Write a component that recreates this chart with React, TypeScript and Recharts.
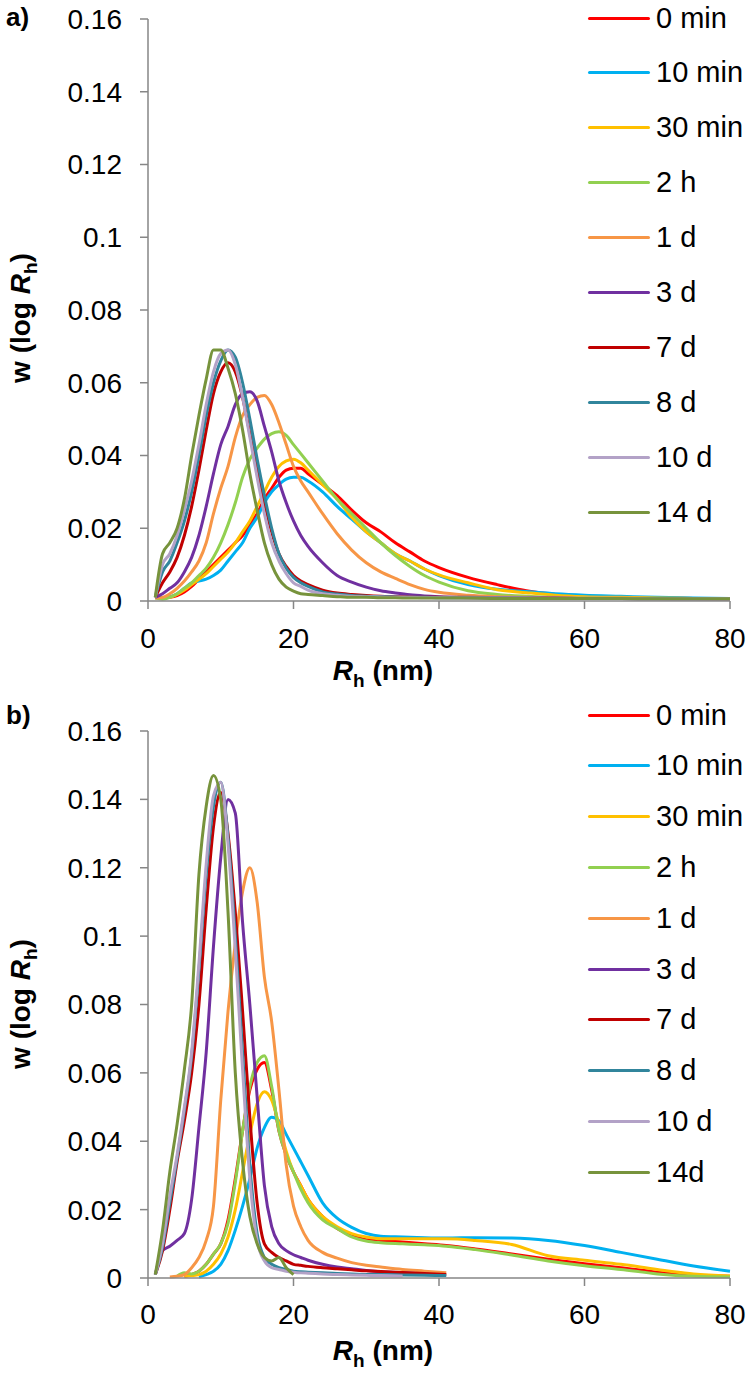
import React from "react";
import { LineChart, Line, XAxis, YAxis, Legend } from "recharts";

const FONT = "'Liberation Sans', Arial, sans-serif";
const AXIS_GREY = "#868686";

const seriesKeys = ["s0", "s1", "s2", "s3", "s4", "s5", "s6", "s7", "s8", "s9"];
const namesA = ["0 min", "10 min", "30 min", "2 h", "1 d", "3 d", "7 d", "8 d", "10 d", "14 d"];
const namesB = ["0 min", "10 min", "30 min", "2 h", "1 d", "3 d", "7 d", "8 d", "10 d", "14d"];
const seriesColors = ["#FF0000", "#00B0F0", "#FFC000", "#92D050", "#F79646", "#7030A0", "#C00000", "#31859C", "#B3A2C7", "#77933C"];

const xTicks = [0, 20, 40, 60, 80];
const yTicks = [0, 0.02, 0.04, 0.06, 0.08, 0.1, 0.12, 0.14, 0.16];

// panel a) – Rh grid (nm)
const rhA = [1, 2, 3, 4, 5, 6, 7, 8, 9, 10, 11, 12, 13, 14, 15, 16, 17, 18, 19, 20, 21, 22, 24, 26, 28, 30, 32, 34, 36, 38, 40, 44, 48, 52, 56, 60, 65, 70, 75, 80];
const a0min = [0.001, 0.0008, 0.001, 0.0015, 0.0025, 0.004, 0.006, 0.008, 0.01, 0.012, 0.014, 0.016, 0.018, 0.021, 0.024, 0.028, 0.031, 0.034, 0.036, 0.0365, 0.0365, 0.035, 0.032, 0.029, 0.025, 0.0215, 0.019, 0.016, 0.0135, 0.011, 0.0092, 0.0065, 0.0045, 0.0028, 0.0018, 0.0013, 0.001, 0.0008, 0.0007, 0.0006];
const a10min = [0.001, 0.0008, 0.0012, 0.002, 0.0035, 0.005, 0.0055, 0.006, 0.007, 0.0085, 0.011, 0.0135, 0.016, 0.02, 0.023, 0.027, 0.03, 0.032, 0.0335, 0.034, 0.034, 0.033, 0.03, 0.026, 0.0225, 0.019, 0.016, 0.013, 0.011, 0.0088, 0.007, 0.0045, 0.0032, 0.0026, 0.002, 0.0016, 0.0013, 0.001, 0.0008, 0.0007];
const a30min = [0.001, 0.0008, 0.001, 0.0018, 0.003, 0.0045, 0.006, 0.0075, 0.0095, 0.0115, 0.0135, 0.016, 0.019, 0.022, 0.026, 0.03, 0.034, 0.037, 0.0385, 0.039, 0.038, 0.036, 0.032, 0.028, 0.023, 0.019, 0.016, 0.013, 0.011, 0.0088, 0.0072, 0.005, 0.0031, 0.0023, 0.0016, 0.0012, 0.001, 0.0008, 0.0007, 0.0006];
const a2h = [0.0008, 0.0005, 0.001, 0.002, 0.0035, 0.005, 0.007, 0.009, 0.012, 0.016, 0.021, 0.027, 0.034, 0.039, 0.042, 0.0445, 0.046, 0.0465, 0.0455, 0.043, 0.0405, 0.038, 0.033, 0.028, 0.024, 0.02, 0.016, 0.0125, 0.0095, 0.007, 0.0052, 0.0028, 0.0018, 0.0013, 0.001, 0.0009, 0.0008, 0.0007, 0.0007, 0.0006];
const a1d = [0.0008, 0.001, 0.002, 0.0035, 0.0055, 0.008, 0.011, 0.016, 0.024, 0.031, 0.037, 0.045, 0.051, 0.054, 0.056, 0.0565, 0.054, 0.049, 0.043, 0.037, 0.033, 0.03, 0.024, 0.0185, 0.014, 0.0105, 0.008, 0.0062, 0.0045, 0.0032, 0.0024, 0.0016, 0.0012, 0.001, 0.0009, 0.0008, 0.0008, 0.0007, 0.0007, 0.0006];
const a3d = [0.001, 0.002, 0.0035, 0.005, 0.008, 0.012, 0.018, 0.026, 0.035, 0.043, 0.048, 0.054, 0.057, 0.0575, 0.055, 0.048, 0.041, 0.033, 0.027, 0.022, 0.018, 0.015, 0.0105, 0.007, 0.0052, 0.0038, 0.0028, 0.0022, 0.0017, 0.0014, 0.0012, 0.001, 0.0009, 0.0008, 0.0008, 0.0007, 0.0007, 0.0007, 0.0006, 0.0006];
const a7d = [0.001, 0.005, 0.008, 0.012, 0.018, 0.026, 0.036, 0.047, 0.057, 0.063, 0.0655, 0.063, 0.056, 0.046, 0.036, 0.027, 0.019, 0.013, 0.0095, 0.007, 0.0055, 0.0045, 0.003, 0.0022, 0.0018, 0.0015, 0.0013, 0.0012, 0.0011, 0.001, 0.001, 0.0009, 0.0008, 0.0008, 0.0007, 0.0007, 0.0007, 0.0006, 0.0006, 0.0006];
const a8d = [0.001, 0.008, 0.011, 0.016, 0.022, 0.03, 0.04, 0.051, 0.06, 0.066, 0.069, 0.067, 0.06, 0.05, 0.039, 0.029, 0.02, 0.013, 0.009, 0.0065, 0.005, 0.004, 0.0025, 0.0019, 0.0015, 0.0013, 0.0012, 0.0011, 0.001, 0.001, 0.0009, 0.0009, 0.0008, 0.0008, 0.0007, 0.0007, 0.0007, 0.0006, 0.0006, 0.0006];
const a10d = [0.001, 0.01, 0.013, 0.018, 0.025, 0.033, 0.043, 0.054, 0.063, 0.068, 0.069, 0.065, 0.056, 0.045, 0.034, 0.024, 0.016, 0.011, 0.0075, 0.005, 0.004, 0.003, 0.002, 0.0016, 0.0013, 0.0012, 0.0011, 0.001, 0.001, 0.0009, 0.0009, 0.0008, 0.0008, 0.0008, 0.0007, 0.0007, 0.0007, 0.0006, 0.0006, 0.0006];
const a14d = [0.001, 0.013, 0.016, 0.02, 0.028, 0.04, 0.051, 0.061, 0.069, 0.069, 0.064, 0.057, 0.047, 0.035, 0.025, 0.016, 0.01, 0.006, 0.0038, 0.0027, 0.002, 0.0018, 0.0015, 0.0012, 0.001, 0.001, 0.0009, 0.0009, 0.0008, 0.0008, 0.0008, 0.0008, 0.0007, 0.0007, 0.0007, 0.0007, 0.0007, 0.0006, 0.0006, 0.0006];

// panel b) – Rh grid (nm)
const rhB = [1, 2, 3, 4, 5, 6, 7, 8, 9, 10, 11, 12, 13, 14, 15, 16, 17, 18, 19, 20, 21, 22, 24, 26, 28, 30, 32, 35, 38, 41, 45, 50, 55, 60, 65, 70, 75, 80];
const b0min = [null, null, null, null, 0.0005, 0.001, 0.002, 0.004, 0.007, 0.01, 0.017, 0.029, 0.043, 0.055, 0.061, 0.063, 0.055, 0.043, 0.036, 0.031, 0.027, 0.023, 0.018, 0.0145, 0.0125, 0.0112, 0.011, 0.0105, 0.01, 0.0095, 0.0085, 0.007, 0.0055, 0.0042, 0.003, 0.0017, 0.0008, 0.0005];
const b10min = [null, null, null, null, null, null, 0.0003, 0.001, 0.002, 0.004, 0.008, 0.014, 0.021, 0.029, 0.038, 0.044, 0.047, 0.046, 0.042, 0.038, 0.034, 0.03, 0.022, 0.0175, 0.0148, 0.013, 0.0122, 0.012, 0.0118, 0.0117, 0.0118, 0.0117, 0.011, 0.0095, 0.0075, 0.0055, 0.0035, 0.002];
const b30min = [null, null, null, null, 0.0005, 0.0007, 0.001, 0.002, 0.004, 0.007, 0.012, 0.02, 0.031, 0.042, 0.051, 0.0545, 0.052, 0.045, 0.037, 0.031, 0.027, 0.023, 0.018, 0.015, 0.013, 0.012, 0.0115, 0.0115, 0.0115, 0.0115, 0.011, 0.0098, 0.0065, 0.0052, 0.004, 0.0025, 0.0012, 0.0006];
const b2h = [null, null, null, 0.0005, 0.0015, 0.0012, 0.002, 0.004, 0.007, 0.01, 0.016, 0.028, 0.043, 0.056, 0.063, 0.065, 0.056, 0.043, 0.036, 0.031, 0.026, 0.022, 0.017, 0.0145, 0.012, 0.0108, 0.0103, 0.01, 0.0097, 0.0093, 0.0083, 0.0067, 0.005, 0.0036, 0.0025, 0.0012, 0.0005, 0.0003];
const b1d = [null, null, 0.0003, 0.0005, 0.001, 0.003, 0.006, 0.011, 0.021, 0.052, 0.078, 0.098, 0.113, 0.12, 0.11, 0.088, 0.075, 0.055, 0.033, 0.021, 0.015, 0.011, 0.0075, 0.0058, 0.0045, 0.0037, 0.0032, 0.0025, 0.002, 0.0015, null, null, null, null, null, null, null, null];
const b3d = [0.001, 0.008, 0.0093, 0.011, 0.013, 0.023, 0.044, 0.066, 0.097, 0.123, 0.14, 0.136, 0.104, 0.08, 0.053, 0.027, 0.015, 0.01, 0.008, 0.0068, 0.006, 0.0052, 0.004, 0.0032, 0.0027, 0.0022, 0.0018, 0.0015, 0.0012, null, null, null, null, null, null, null, null, null];
const b7d = [0.001, 0.008, 0.02, 0.034, 0.046, 0.06, 0.08, 0.108, 0.132, 0.142, 0.13, 0.107, 0.078, 0.047, 0.022, 0.01, 0.0075, 0.006, 0.005, 0.004, 0.0037, 0.0034, 0.003, 0.0027, 0.0024, 0.0021, 0.0019, 0.0016, 0.0013, 0.001, null, null, null, null, null, null, null, null];
const b8d = [0.001, 0.009, 0.022, 0.035, 0.049, 0.065, 0.09, 0.118, 0.138, 0.145, 0.129, 0.1, 0.066, 0.033, 0.013, 0.006, 0.004, 0.003, 0.0025, 0.002, 0.0018, 0.0017, 0.0015, 0.0013, 0.0012, 0.001, 0.001, 0.0009, 0.0008, 0.0007, null, null, null, null, null, null, null, null];
const b10d = [0.001, 0.01, 0.024, 0.036, 0.05, 0.066, 0.092, 0.121, 0.141, 0.145, 0.127, 0.096, 0.061, 0.029, 0.011, 0.005, 0.003, 0.0025, 0.002, 0.0017, 0.0015, 0.0014, 0.0012, 0.001, 0.0009, 0.0008, 0.0007, 0.0006, null, null, null, null, null, null, null, null, null, null];
const b14d = [0.001, 0.014, 0.031, 0.045, 0.061, 0.08, 0.118, 0.138, 0.147, 0.14, 0.107, 0.06, 0.034, 0.018, 0.01, 0.006, 0.005, 0.006, 0.003, 0.001, null, null, null, null, null, null, null, null, null, null, null, null, null, null, null, null, null, null];

const seriesA = [a0min, a10min, a30min, a2h, a1d, a3d, a7d, a8d, a10d, a14d];
const seriesB = [b0min, b10min, b30min, b2h, b1d, b3d, b7d, b8d, b10d, b14d];

function buildRows(xs: number[], series: (number | null)[][]) {
  return xs.map((x, i) => {
    const row: Record<string, number | null> = { x };
    series.forEach((s, k) => {
      row[seriesKeys[k]] = s[i];
    });
    return row;
  });
}

const dataA = buildRows(rhA, seriesA);
const dataB = buildRows(rhB, seriesB);

function LegendList({ names, gap }: { names: string[]; gap: number }) {
  return (
    <div style={{ position: "relative", width: 160, fontFamily: FONT, fontSize: 29, color: "#000" }}>
      {names.map((n, i) => (
        <div
          key={n}
          style={{ position: "absolute", left: 0, top: i * gap, display: "flex", alignItems: "center", height: 0, whiteSpace: "nowrap" }}
        >
          <span style={{ display: "inline-block", width: 62, height: 3, background: seriesColors[i], borderRadius: 2, marginRight: 6 }} />
          <span>{n}</span>
        </div>
      ))}
    </div>
  );
}

function XTitle({ x, y }: { x: number; y: number }) {
  return (
    <text x={x} y={y} textAnchor="middle" fontFamily={FONT} fontWeight="bold" fontSize={28} fill="#000">
      <tspan fontStyle="italic">R</tspan>
      <tspan dy={7} fontSize={19}>h</tspan>
      <tspan dy={-7}> (nm)</tspan>
    </text>
  );
}

function YTitle({ cx, cy }: { cx: number; cy: number }) {
  return (
    <text
      x={cx}
      y={cy}
      textAnchor="middle"
      transform={`rotate(-90 ${cx} ${cy})`}
      fontFamily={FONT}
      fontWeight="bold"
      fontSize={28}
      fill="#000"
    >
      <tspan>w (log </tspan>
      <tspan fontStyle="italic">R</tspan>
      <tspan dy={7} fontSize={19}>h</tspan>
      <tspan dy={-7}>)</tspan>
    </text>
  );
}

interface PanelProps {
  data: Record<string, number | null>[];
  names: string[];
  height: number;
  top: number;
  bottom: number;
  tickMargin: number;
  legendTop: number;
  legendGap: number;
  xTitleY: number;
  yTitleY: number;
  strokeWidth: number;
}

function Panel(p: PanelProps) {
  const tickStyle = { fill: "#000", fontSize: 28, fontFamily: FONT };
  return (
    <LineChart width={750} height={p.height} data={p.data} margin={{ top: p.top, right: 20, left: 88, bottom: p.bottom }}>
      <XAxis
        dataKey="x"
        type="number"
        domain={[0, 80]}
        ticks={xTicks}
        interval={0}
        height={60}
        stroke={AXIS_GREY}
        strokeWidth={1.5}
        tickSize={8}
        tickMargin={p.tickMargin}
        tick={tickStyle}
        label={{ content: () => <XTitle x={383} y={p.xTitleY} /> }}
      />
      <YAxis
        type="number"
        domain={[0, 0.16]}
        ticks={yTicks}
        interval={0}
        width={60}
        stroke={AXIS_GREY}
        strokeWidth={1.5}
        tickSize={8}
        tickMargin={18}
        tick={tickStyle}
        label={{ content: () => <YTitle cx={30} cy={p.yTitleY} /> }}
      />
      <Legend
        layout="vertical"
        align="center"
        verticalAlign="middle"
        wrapperStyle={{ left: 588, top: p.legendTop, width: 160, height: 0 }}
        content={() => <LegendList names={p.names} gap={p.legendGap} />}
      />
      {seriesKeys.map((k, i) => (
        <Line
          key={k}
          dataKey={k}
          name={p.names[i]}
          type="monotone"
          stroke={seriesColors[i]}
          strokeWidth={p.strokeWidth}
          dot={false}
          activeDot={false}
          connectNulls={false}
          isAnimationActive={false}
        />
      ))}
    </LineChart>
  );
}

export default function App() {
  const tag = { position: "absolute" as const, left: 6, fontFamily: FONT, fontWeight: "bold" as const, fontSize: 26 };
  return (
    <div style={{ position: "absolute", left: 0, top: 0, width: 750, height: 1382, background: "#fff" }}>
      <div style={{ position: "absolute", left: 0, top: 0 }}>
        <Panel
          data={dataA}
          names={namesA}
          height={690}
          top={19}
          bottom={29}
          tickMargin={19}
          legendTop={18}
          legendGap={54.9}
          xTitleY={680}
          yTitleY={318}
          strokeWidth={3}
        />
      </div>
      <div style={{ position: "absolute", left: 0, top: 690 }}>
        <Panel
          data={dataB}
          names={namesB}
          height={692}
          top={41}
          bottom={44}
          tickMargin={18}
          legendTop={25}
          legendGap={50.8}
          xTitleY={670}
          yTitleY={314}
          strokeWidth={3}
        />
      </div>
      <div style={{ ...tag, top: 2 }}>a)</div>
      <div style={{ ...tag, top: 700 }}>b)</div>
    </div>
  );
}
